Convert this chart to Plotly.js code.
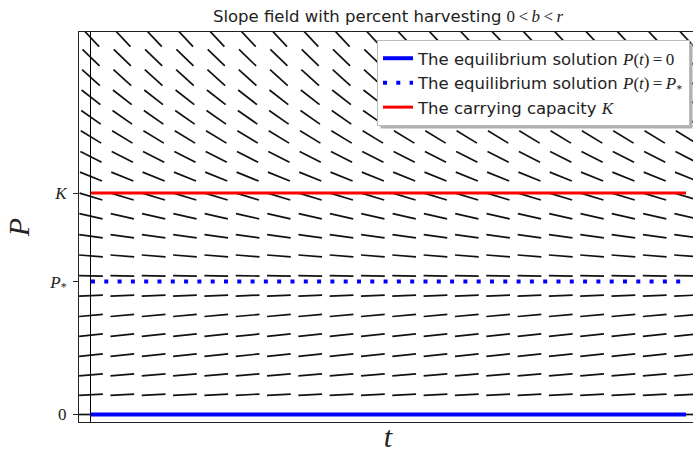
<!DOCTYPE html>
<html><head><meta charset="utf-8">
<script src="https://cdn.plot.ly/plotly-3.0.1.min.js"></script>
<style>html,body{margin:0;padding:0;overflow:hidden;background:#fff}</style>
</head><body><div id="chart" style="width:700px;height:453px"></div>
<script>
// grid of the slope field (t columns, P rows); K = 1
const tGrid = [0,1,2,3,4,5,6,7,8,9,10,11,12,13,14,15,16,17,18,19];
const pGrid = [0,0.0895,0.179,0.268,0.358,0.447,0.537,0.626,0.716,0.805,0.895,0.984,1.074,1.163,1.253,1.342,1.432,1.521,1.611,1.7];
// screen direction of the segments in each row (degrees, counter-clockwise)
const rowAngles = [0,3,5,6,6,5,2.5,-1,-4.5,-8,-13,-17,-22,-27,-31,-35,-38,-42,-44,-47];
const K = 1;
const Pstar = 0.6;
const yTickVals = [0, Pstar, K];
const yTickText = ['0', '<i>P</i><sub>*</sub>', '<i>K</i>'];
const SERIF = "font-family:'Liberation Serif';font-size:17px";
const TS = '\u2009';
const legendNames = [
  'The equilibrium solution <span style="' + SERIF + '"><i>P</i>(<i>t</i>)' + TS + '=' + TS + '0</span>',
  'The equilibrium solution <span style="' + SERIF + '"><i>P</i>(<i>t</i>)' + TS + '=' + TS + '<i>P</i><sub>*</sub></span>',
  'The carrying capacity <span style="' + SERIF + '"><i>K</i></span>'
];
const titleText = 'Slope field with percent harvesting <span style="' + SERIF + '">0' + TS + '&lt;' + TS + '<i>b</i>' + TS + '&lt;' + TS + '<i>r</i></span>';

const sx = [], sy = [], sa = [];
for (let j = 0; j < pGrid.length; j++) {
  for (let i = 0; i < tGrid.length; i++) {
    sx.push(tGrid[i]); sy.push(pGrid[j]); sa.push(-rowAngles[j]);
  }
}
const tEnds = [tGrid[0], tGrid[tGrid.length - 1]];

const traces = [
  {type:'scatter', mode:'markers', x:sx, y:sy, showlegend:false, hoverinfo:'skip',
   marker:{symbol:'line-ew', size:17, angle:sa, color:'#111', line:{color:'#111', width:1.7}}},
  {type:'scatter', mode:'lines', x:tEnds, y:[0,0], name:legendNames[0],
   line:{color:'#0000ff', width:4}},
  {type:'scatter', mode:'lines', x:tEnds, y:[Pstar,Pstar], name:legendNames[1],
   line:{color:'#0000ff', width:4, dash:'4px,9.3px'}},
  {type:'scatter', mode:'lines', x:tEnds, y:[K,K], name:legendNames[2],
   line:{color:'#ff0000', width:3}}
];

const layout = {
  width:700, height:453,
  margin:{l:79, r:3, t:32, b:31},
  paper_bgcolor:'#fff', plot_bgcolor:'#fff',
  font:{family:'DejaVu Sans', size:16.5, color:'#222'},
  title:{text:titleText, x:0.5, xref:'paper', xanchor:'center', y:1-16/453, yref:'container', yanchor:'middle',
         font:{family:'DejaVu Sans', size:16.5, color:'#222'}},
  xaxis:{range:[-0.383, 19.35], showgrid:false, zeroline:true, zerolinecolor:'#000', zerolinewidth:1,
         showline:true, mirror:true, linecolor:'#222', linewidth:1, showticklabels:false, ticks:'',
         title:{text:'<i>t</i>', font:{family:'Liberation Serif', size:30, color:'#222'}, standoff:6}},
  yaxis:{range:[-0.0339, 1.727], showgrid:false, zeroline:true, zerolinecolor:'#000', zerolinewidth:1,
         showline:true, mirror:true, linecolor:'#222', linewidth:1,
         tickvals:yTickVals, ticktext:yTickText, ticks:'outside', ticklen:5, tickcolor:'#222',
         ticklabelstandoff:3,
         tickfont:{family:'Liberation Serif', size:17, color:'#222'},
         title:{text:'<i>P</i>', font:{family:'Liberation Serif', size:30, color:'#222'}, standoff:10}},
  legend:{x:(690-79)/618, xanchor:'right', y:(422-40)/390, yanchor:'top', bgcolor:'#fff',
          bordercolor:'#bbb', borderwidth:1, font:{family:'DejaVu Sans', size:16.5, color:'#222'},
          itemwidth:30, tracegroupgap:0},
  showlegend:true
};

Plotly.newPlot('chart', traces, layout, {displayModeBar:false, staticPlot:true}).then(function(gd){
  const lg = gd.querySelector('.legend .bg');
  if (!lg) return;
  const r = lg.getBoundingClientRect();
  const c = gd.getBoundingClientRect();
  const L = 79, W = 618, T = 32, H = 390;
  const px = v => (v - c.left - L) / W;
  const py = v => 1 - (v - c.top - T) / H;
  Plotly.relayout(gd, {shapes:[{type:'rect', xref:'paper', yref:'paper', layer:'above',
    x0:px(r.left+3), x1:px(r.right+3), y0:py(r.bottom+3), y1:py(r.top+3),
    fillcolor:'#b0b0b0', line:{width:0}}]});
});
</script></body></html>
